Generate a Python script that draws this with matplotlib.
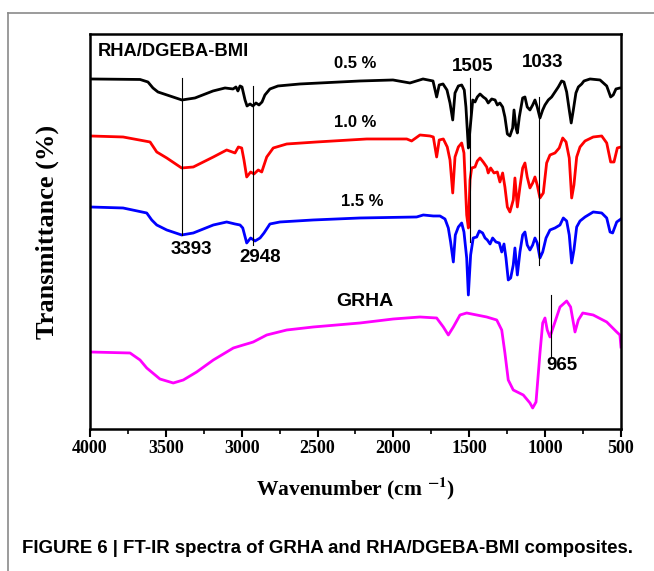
import matplotlib
matplotlib.use("Agg")
import matplotlib.pyplot as plt
from matplotlib.lines import Line2D
from matplotlib.ticker import MultipleLocator

# FT-IR spectra, wavenumber (cm-1) and transmittance (a.u., stacked)
w_05 = [4000, 3670, 3618, 3585, 3552, 3473, 3394, 3308, 3189, 3110, 3057, 3038, 3025, 3011, 2998,
        2978, 2965, 2945, 2926, 2906, 2886, 2866, 2847, 2814, 2761, 2616, 2220, 2003, 1891, 1805,
        1739, 1715, 1698, 1673, 1647, 1627, 1609, 1594, 1572, 1550, 1533, 1522, 1513, 1506, 1491,
        1477, 1462, 1447, 1429, 1408, 1390, 1375, 1352, 1330, 1315, 1298, 1280, 1265, 1249, 1232,
        1214, 1205, 1192, 1183, 1170, 1148, 1133, 1118, 1100, 1082, 1067, 1052, 1034, 1016, 1001,
        979, 957, 935, 913, 891, 876, 858, 841, 828, 814, 797, 781, 759, 744, 704, 638, 594, 568,
        551, 533, 507, 500]
t_05 = [350, 349.5, 347, 341, 337, 333, 329, 331, 338, 341, 340, 342, 338, 343, 342,
        329, 323, 325, 323, 326, 324, 327, 334, 340, 343, 345, 348, 349, 346, 350,
        348, 332, 344, 345, 339, 326, 309, 336, 343, 344, 339, 322, 299, 281, 306,
        329, 327, 332, 335, 332, 330, 326, 330, 329, 324, 326, 322, 312, 295, 293,
        301, 319, 301, 296, 312, 331, 332, 322, 319, 324, 329, 322, 311, 319, 324,
        329, 332, 337, 342, 348, 347, 337, 319, 306, 319, 336, 342, 345, 348, 350, 349, 343, 332,
        334, 340, 341, 341]

w_10 = [4000, 3782, 3604, 3560, 3494, 3396, 3319, 3187, 3099, 3044, 3022, 3000, 2985, 2967, 2941,
        2919, 2891, 2868, 2835, 2792, 2703, 2506, 2176, 1912, 1880, 1825, 1759, 1737, 1715, 1698,
        1671, 1645, 1627, 1609, 1594, 1572, 1550, 1535, 1517, 1506, 1495, 1484, 1462, 1447, 1429,
        1408, 1385, 1375, 1359, 1337, 1315, 1298, 1280, 1265, 1249, 1232, 1210, 1199, 1183, 1166,
        1148, 1133, 1118, 1100, 1082, 1067, 1052, 1034, 1012, 990, 968, 935, 907, 884, 862, 841,
        825, 810, 792, 770, 737, 683, 627, 594, 568, 546, 524, 500]
t_10 = [293, 292, 287, 277, 271, 261, 262, 272, 279, 276, 282, 281, 269, 252, 257,
        255, 259, 257, 272, 281, 285, 287, 290, 290, 288, 294, 293, 292, 272, 289,
        290, 282, 269, 236, 272, 282, 286, 276, 214, 201, 249, 261, 262, 268, 271,
        267, 262, 256, 261, 256, 257, 247, 256, 242, 222, 217, 229, 251, 222, 242,
        261, 266, 252, 241, 246, 252, 244, 231, 236, 266, 274, 276, 281, 291, 287, 271,
        231, 244, 272, 282, 288, 292, 293, 286, 267, 267, 281, 282]

w_15 = [4000, 3782, 3626, 3593, 3560, 3494, 3396, 3319, 3187, 3099, 3044, 3011, 2993, 2967, 2941,
        2912, 2879, 2853, 2814, 2748, 2530, 2220, 1847, 1803, 1737, 1693, 1660, 1638, 1623, 1605,
        1592, 1572, 1550, 1535, 1517, 1506, 1491, 1474, 1451, 1434, 1412, 1396, 1381, 1363, 1346,
        1324, 1302, 1286, 1271, 1258, 1243, 1227, 1210, 1199, 1183, 1166, 1148, 1133, 1118, 1100,
        1082, 1067, 1052, 1034, 1016, 994, 968, 935, 902, 880, 858, 841, 825, 810, 792, 770, 737,
        683, 627, 594, 572, 555, 528, 500]
t_15 = [222, 221, 216, 209, 204, 199, 194, 196, 204, 207, 205, 204, 201, 186, 191,
        188, 191, 196, 205, 207, 209, 211, 212, 214, 213, 213, 210, 201, 187, 167,
        194, 202, 206, 197, 171, 134, 174, 191, 192, 198, 196, 191, 189, 185, 191,
        187, 186, 177, 185, 171, 149, 151, 164, 181, 154, 177, 194, 197, 184, 179,
        184, 191, 186, 171, 177, 191, 199, 201, 204, 211, 208, 194, 166, 179, 202, 208, 212,
        217, 216, 211, 197, 196, 207, 210]

w_grha = [4000, 3736, 3670, 3626, 3539, 3451, 3385, 3297, 3187, 3055, 2990, 2945, 2924, 2835, 2703,
          2528, 2220, 2001, 1825, 1715, 1671, 1638, 1605, 1561, 1517, 1385, 1319, 1286, 1265, 1243,
          1210, 1144, 1100, 1082, 1060, 1034, 1016, 1001, 986, 968, 946, 902, 858, 832, 803, 781,
          752, 683, 594, 528, 507, 500]
t_grha = [77, 76, 69, 61, 50, 46, 49, 57, 69, 81, 84, 86, 87, 94, 99,
          102, 106, 110, 112, 111, 102, 94, 102, 114, 116, 112, 109, 99, 76, 49,
          39, 34, 26, 21, 27, 76, 106, 111, 99, 92, 102, 122, 128, 122, 97, 109,
          116, 114, 107, 97, 94, 82]

# curve labels
curve_names = ["0.5 %", "1.0 %", "1.5 %", "GRHA"]
curve_colors = ["black", "red", "blue", "magenta"]
name_w = [2250, 2250, 2207, 2187]
name_t = [365, 306, 227, 127]
name_size = [12, 12, 12, 14]

# peak markers: position, line top/bottom, label
peak_labels = ["3393", "2948", "1505", "1033", "965"]
peak_w = [3393, 2928, 1495, 1038, 963]
peak_top = [351, 343, 351, 332, 134]
peak_bot = [194, 184, 187, 164, 72]
plab_w = [3334, 2880, 1475, 1014, 891]
plab_t = [179, 171, 362, 366, 63]

plt.rcParams['mathtext.fontset'] = 'stix'

fig = plt.figure(figsize=(6.54, 5.71), dpi=100)
ax = fig.add_axes([0.1376, 0.2487, 0.8119, 0.6918])

series = [(w_05, t_05), (w_10, t_10), (w_15, t_15), (w_grha, t_grha)]
for (w, t), c in zip(series, curve_colors):
    ax.plot(w, t, color=c, lw=2.0, solid_joinstyle='round')

for pw, top, bot in zip(peak_w, peak_top, peak_bot):
    ax.plot([pw, pw], [bot, top], color='black', lw=0.8)

for txt, x, y, fs in zip(curve_names, name_w, name_t, name_size):
    ax.text(x, y, txt, ha='center', va='center', family='Liberation Sans',
            weight='bold', fontsize=fs)
for txt, x, y in zip(peak_labels, plab_w, plab_t):
    ax.text(x, y, txt, ha='center', va='center', family='Liberation Sans',
            weight='bold', fontsize=13.5)
ax.text(0.015, 0.955, "RHA/DGEBA-BMI", transform=ax.transAxes, ha='left', va='center',
        family='Liberation Sans', weight='bold', fontsize=13.2)

ax.set_xlim(4000, 500)
ax.set_ylim(0, 395)
ax.xaxis.set_major_locator(MultipleLocator(500))
ax.xaxis.set_minor_locator(MultipleLocator(250))
ax.tick_params(axis='x', which='major', direction='out', length=6, width=1.5,
               top=False, pad=2)
ax.tick_params(axis='x', which='minor', direction='out', length=3.5, width=1.2, top=False)
ax.set_yticks([])
for lab in ax.get_xticklabels():
    lab.set_family('Liberation Serif')
    lab.set_fontweight('bold')
    lab.set_fontsize(13)
for s in ax.spines.values():
    s.set_linewidth(1.8)

ax.set_xlabel(r'Wavenumber (cm $^{\mathbf{-1}}$)', family='Liberation Serif', weight='bold',
              fontsize=15.5, labelpad=13)
ax.set_ylabel('Transmittance (%)', family='Liberation Serif', weight='bold',
              fontsize=19, labelpad=22)

fig.text(0.034, 0.040, "FIGURE 6 | FT-IR spectra of GRHA and RHA/DGEBA-BMI composites.",
         family='Liberation Sans', weight='bold', fontsize=13.4, ha='left', va='center')

# page frame (top and left rules)
fig.add_artist(Line2D([0.012, 1.0], [0.977, 0.977], transform=fig.transFigure,
                      color='#8a8a8a', lw=1.2))
fig.add_artist(Line2D([0.012, 0.012], [0.0, 0.977], transform=fig.transFigure,
                      color='#8a8a8a', lw=1.2))

fig.savefig("out.png", dpi=100)
